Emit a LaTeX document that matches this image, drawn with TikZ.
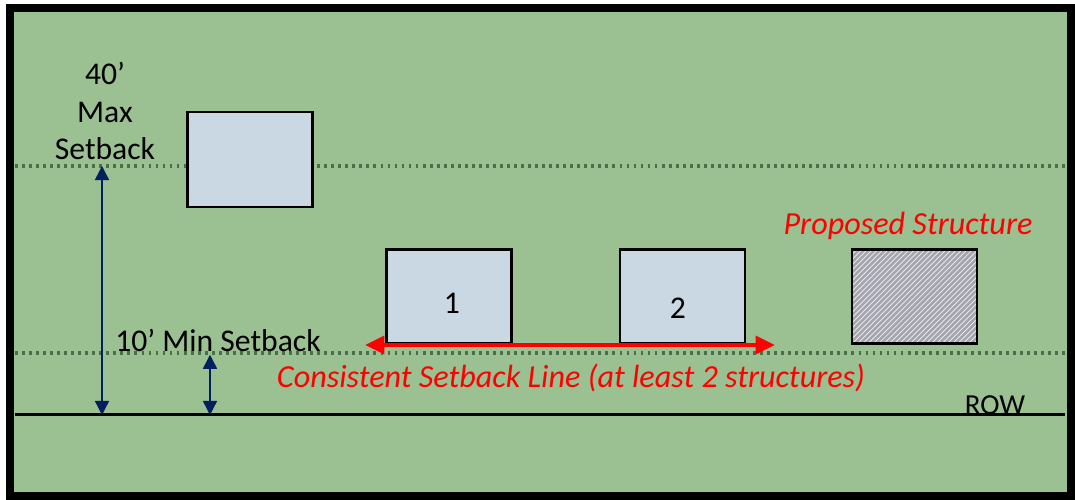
\documentclass[tikz,border=0pt]{standalone}
\usepackage{fontspec}
\setmainfont{Carlito}
\usetikzlibrary{arrows.meta,patterns,positioning}

\definecolor{lotGreen}{RGB}{155,192,145}
\definecolor{lineGreen}{RGB}{75,110,75}
\definecolor{houseBlue}{RGB}{201,216,227}
\definecolor{hatchGray}{RGB}{165,165,175}
\definecolor{arrowNavy}{RGB}{0,32,96}

\newcommand{\frameW}{21.5}
\newcommand{\frameH}{10}
\newcommand{\maxSetbackY}{6.68}
\newcommand{\minSetbackY}{2.94}
\newcommand{\rowY}{1.7}
\newcommand{\lineStartX}{0.3}
\newcommand{\lineEndX}{21.3}
\newcommand{\houseY}{4.07}

\tikzset{
  house/.style={draw=black, line width=1.6pt, fill=houseBlue, minimum width=2.5cm, minimum height=1.87cm, inner sep=0pt},
  setbackline/.style={lineGreen, line width=2.2pt, dash pattern=on 1.6pt off 2.4pt},
  dimarrow/.style={arrowNavy, line width=0.8pt},
  redtext/.style={red, font=\fontsize{18.3}{20}\selectfont\itshape},
  blacktext/.style={black, font=\fontsize{18}{21}\selectfont}
}

\begin{document}
\begin{tikzpicture}
        \useasboundingbox (0,0) rectangle (\frameW,\frameH);
        % Lot
        \fill[lotGreen] (0.2,0.08) rectangle (21.42,9.84);
        \draw[black, line width=4.5pt] (0.2,0.08) rectangle (21.42,9.84);

        % Setback lines
        \draw[setbackline] (\lineStartX,\maxSetbackY) -- (\lineEndX,\maxSetbackY);
        \draw[setbackline] (\lineStartX,\minSetbackY) -- (\lineEndX,\minSetbackY);
        \draw[black, line width=1.7pt] (\lineStartX,\rowY) -- (\lineEndX,\rowY);

        % Structures
        \node[house] (oldhouse) at (5.0,6.81) [minimum height=1.9cm] {};
        \node[house] (house1) at (8.98,\houseY) {};
        \node[house] (house2) at (13.65,\houseY) {};
        \node[house, fill=none, preaction={fill=hatchGray}, pattern=north east lines, pattern color=white!85!hatchGray] (proposed) at (18.29,\houseY) {};
        \node[blacktext] (num1) at ([xshift=0.06cm,yshift=-0.13cm]house1.center) {1};
        \node[blacktext] (num2) at ([xshift=-0.09cm,yshift=-0.23cm]house2.center) {2};

        % Labels
        \node[redtext] (proposedlabel) at (18.16,5.48) {Proposed Structure};
        \node[redtext] (consistentlabel) at (11.42,2.44) {Consistent Setback Line (at least 2 structures)};
        \node[blacktext, align=center, font=\fontsize{18}{21.5}\selectfont] (maxlabel) at (2.1,7.78) {40’\\Max\\Setback};
        \node[blacktext] (minlabel) at (4.36,3.2) {10’ Min Setback};
        \node[blacktext, font=\fontsize{16.5}{18}\selectfont] (rowlabel) at (19.9,1.9) {ROW};

        % Dimension arrows
        \coordinate (maxtop) at (2.04,\maxSetbackY);
        \coordinate (maxbottom) at (2.04,\rowY);
        \coordinate (mintop) at (4.2,\minSetbackY);
        \coordinate (minbottom) at (4.2,\rowY);
        \draw[dimarrow, {Triangle[width=8pt,length=8pt]}-{Triangle[width=8pt,length=8pt]}] (maxtop) -- (maxbottom);
        \draw[dimarrow, {Triangle[width=8pt,length=8pt]}-{Triangle[width=8pt,length=8pt]}] ([yshift=-1pt]mintop) -- (minbottom);

        % Consistent setback arrow
        \coordinate (consleft) at (7.3,3.1);
        \coordinate (consright) at (15.5,3.1);
        \draw[red, line width=2.5pt, {Triangle[width=10pt,length=11pt]}-{Triangle[width=10pt,length=11pt]}] (consleft) -- (consright);
    \end{tikzpicture}
\end{document}
